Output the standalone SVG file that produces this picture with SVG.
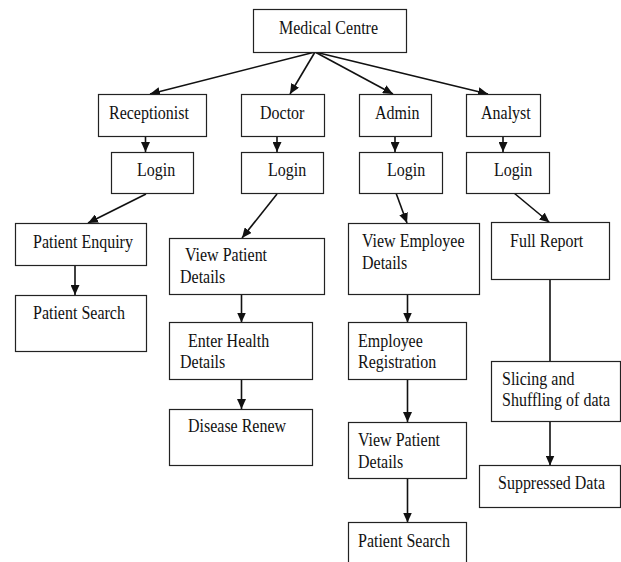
<svg xmlns="http://www.w3.org/2000/svg" width="621" height="562" viewBox="0 0 621 562">
<style>
  .box { fill: #ffffff; stroke: #222222; stroke-width: 1.2; }
  .t { font-family: "Liberation Serif", "Times New Roman", serif; font-size: 16px; fill: #111111; }
  .c { stroke: #111111; stroke-width: 1.6; fill: none; }
  .a { marker-end: url(#ah); }
</style>
<defs>
  <marker id="ah" markerUnits="userSpaceOnUse" markerWidth="10" markerHeight="9" refX="10" refY="4.5" orient="auto">
    <path d="M0,0 L10,4.5 L0,9 z" fill="#111111"/>
  </marker>
</defs>
<rect width="621" height="562" fill="#ffffff"/>

<g id="connectors">
  <line class="c a" x1="315" y1="52" x2="150" y2="94"/>
  <line class="c a" x1="315" y1="52" x2="290" y2="94"/>
  <line class="c a" x1="315" y1="52" x2="393" y2="94"/>
  <line class="c a" x1="315" y1="52" x2="488" y2="94"/>
  <line class="c a" x1="145.5" y1="137" x2="145.5" y2="152"/>
  <line class="c a" x1="277" y1="137" x2="277" y2="152"/>
  <line class="c a" x1="395" y1="137" x2="395" y2="152"/>
  <line class="c a" x1="503" y1="137" x2="503" y2="152"/>
  <line class="c a" x1="146" y1="194" x2="88" y2="223"/>
  <line class="c a" x1="75" y1="266" x2="75" y2="295"/>
  <line class="c a" x1="277" y1="194" x2="242" y2="238"/>
  <line class="c a" x1="241.5" y1="294" x2="241.5" y2="322.5"/>
  <line class="c a" x1="241.5" y1="380" x2="241.5" y2="409"/>
  <line class="c a" x1="396" y1="193" x2="407" y2="223"/>
  <line class="c a" x1="407.5" y1="294" x2="407.5" y2="322.5"/>
  <line class="c a" x1="407.5" y1="380" x2="407.5" y2="422"/>
  <line class="c a" x1="407.5" y1="479" x2="407.5" y2="522.5"/>
  <line class="c a" x1="514" y1="193" x2="549.5" y2="222.5"/>
  <line class="c" x1="550" y1="280" x2="550" y2="361"/>
  <line class="c a" x1="550" y1="422" x2="550" y2="465.5"/>
</g>

<g id="medical-centre">
  <rect class="box" x="253.5" y="9.5" width="153" height="43"/>
  <text class="t" transform="translate(279,34) scale(1,1.18)">Medical Centre</text>
</g>
<g id="receptionist">
  <rect class="box" x="98.5" y="94.5" width="108" height="42"/>
  <text class="t" transform="translate(109,119) scale(1,1.18)">Receptionist</text>
</g>
<g id="doctor">
  <rect class="box" x="241.5" y="94.5" width="83" height="42"/>
  <text class="t" transform="translate(260,119) scale(1,1.18)">Doctor</text>
</g>
<g id="admin">
  <rect class="box" x="359.5" y="94.5" width="72" height="42"/>
  <text class="t" transform="translate(375,119) scale(1,1.18)">Admin</text>
</g>
<g id="analyst">
  <rect class="box" x="466.5" y="94.5" width="74" height="42"/>
  <text class="t" transform="translate(481,119) scale(1,1.18)">Analyst</text>
</g>

<g id="login-receptionist">
  <rect class="box" x="111.5" y="152.5" width="82" height="41"/>
  <text class="t" transform="translate(137,176) scale(1,1.18)">Login</text>
</g>
<g id="login-doctor">
  <rect class="box" x="241.5" y="152.5" width="82" height="41"/>
  <text class="t" transform="translate(268,176) scale(1,1.18)">Login</text>
</g>
<g id="login-admin">
  <rect class="box" x="359.5" y="152.5" width="83" height="41"/>
  <text class="t" transform="translate(387,176) scale(1,1.18)">Login</text>
</g>
<g id="login-analyst">
  <rect class="box" x="466.5" y="152.5" width="83" height="41"/>
  <text class="t" transform="translate(494,176) scale(1,1.18)">Login</text>
</g>

<g id="patient-enquiry">
  <rect class="box" x="15.5" y="223.5" width="131" height="42"/>
  <text class="t" transform="translate(33,248) scale(1,1.18)">Patient Enquiry</text>
</g>
<g id="patient-search-1">
  <rect class="box" x="15.5" y="295.5" width="131" height="56"/>
  <text class="t" transform="translate(33,319) scale(1,1.18)">Patient Search</text>
</g>

<g id="view-patient-details-1">
  <rect class="box" x="169.5" y="238.5" width="155" height="56"/>
  <text class="t" transform="translate(185,261) scale(1,1.18)">View Patient</text>
  <text class="t" transform="translate(180,283) scale(1,1.18)">Details</text>
</g>
<g id="enter-health-details">
  <rect class="box" x="169.5" y="322.5" width="143" height="57"/>
  <text class="t" transform="translate(188,347) scale(1,1.18)">Enter Health</text>
  <text class="t" transform="translate(180,368) scale(1,1.18)">Details</text>
</g>
<g id="disease-renew">
  <rect class="box" x="169.5" y="409.5" width="143" height="56"/>
  <text class="t" transform="translate(188,432) scale(1,1.18)">Disease Renew</text>
</g>

<g id="view-employee-details">
  <rect class="box" x="348.5" y="223.5" width="131" height="71"/>
  <text class="t" transform="translate(362,247) scale(1,1.18)">View Employee</text>
  <text class="t" transform="translate(362,269) scale(1,1.18)">Details</text>
</g>
<g id="employee-registration">
  <rect class="box" x="348.5" y="322.5" width="118" height="57"/>
  <text class="t" transform="translate(358,347) scale(1,1.18)">Employee</text>
  <text class="t" transform="translate(358,368) scale(1,1.18)">Registration</text>
</g>
<g id="view-patient-details-2">
  <rect class="box" x="348.5" y="422.5" width="118" height="56"/>
  <text class="t" transform="translate(358,446) scale(1,1.18)">View Patient</text>
  <text class="t" transform="translate(358,468) scale(1,1.18)">Details</text>
</g>
<g id="patient-search-2">
  <rect class="box" x="348.5" y="522.5" width="118" height="50"/>
  <text class="t" transform="translate(358,547) scale(1,1.18)">Patient Search</text>
</g>

<g id="full-report">
  <rect class="box" x="491.5" y="222.5" width="118" height="57"/>
  <text class="t" transform="translate(510,247) scale(1,1.18)">Full Report</text>
</g>
<g id="slicing-shuffling">
  <rect class="box" x="491.5" y="361.5" width="129" height="60"/>
  <text class="t" transform="translate(502,385) scale(1,1.18)">Slicing and</text>
  <text class="t" transform="translate(502,406) scale(1,1.18)">Shuffling of data</text>
</g>
<g id="suppressed-data">
  <rect class="box" x="479.5" y="465.5" width="141" height="42"/>
  <text class="t" transform="translate(498,489) scale(1,1.18)">Suppressed Data</text>
</g>
</svg>
